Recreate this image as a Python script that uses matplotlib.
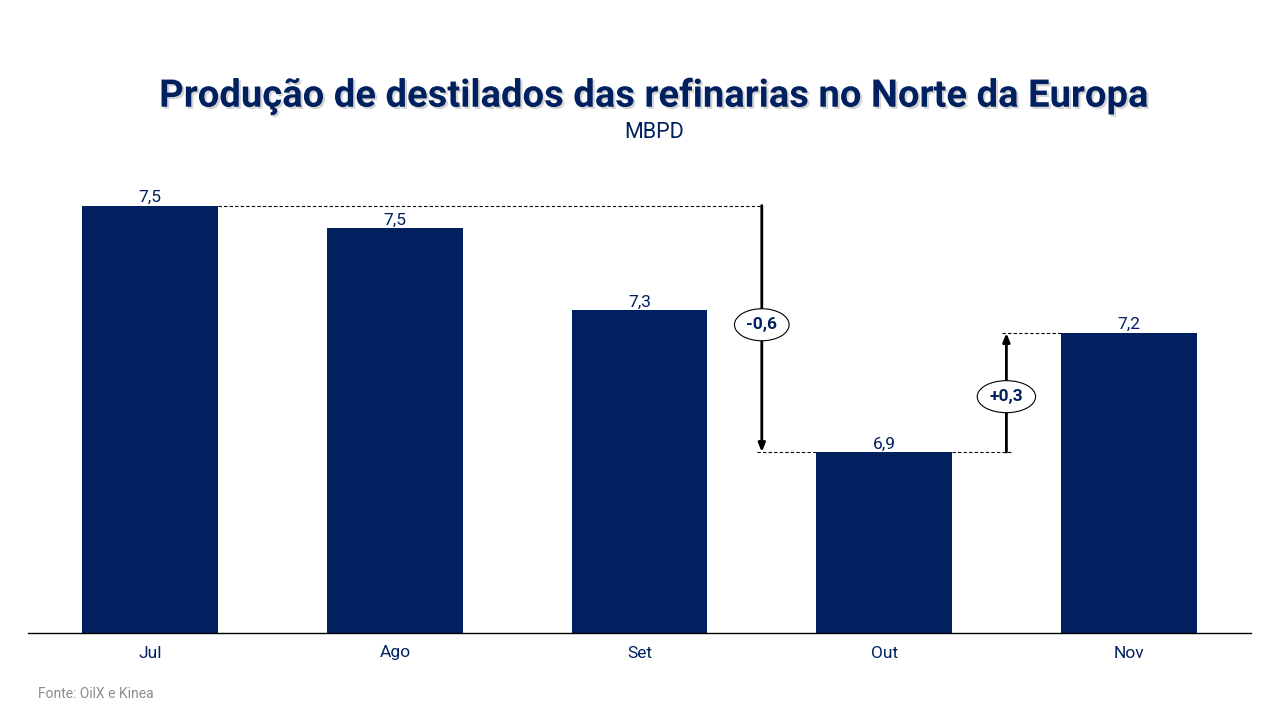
import matplotlib
matplotlib.use("Agg")
import matplotlib.pyplot as plt
import matplotlib.patheffects as pe

months = ["Jul", "Ago", "Set", "Out", "Nov"]
values = [7.54, 7.485, 7.285, 6.94, 7.23]
labels = ["7,5", "7,5", "7,3", "6,9", "7,2"]
delta_labels = ["-0,6", "+0,3"]

NAVY = "#002060"
plt.rcParams["font.family"] = ["Roboto", "DejaVu Sans"]

fig = plt.figure(figsize=(12.8, 7.2), dpi=100)
ax = fig.add_axes([28/1280, 1 - 633/720, 1223/1280, (633-170)/720])

x = list(range(len(months)))
w = 0.555
ax.bar(x, values, width=w, color=NAVY, zorder=2)
ax.set_xlim(-0.5, 4.5)
ymin = 6.5
ax.set_ylim(ymin, ymin + (633-170)/411)

for xi, v, lab in zip(x, values, labels):
    ax.annotate(lab, (xi, v), xytext=(0, 0.5), textcoords="offset points",
                ha="center", va="bottom", fontsize=12.5, color=NAVY)

ax.set_xticks(x)
ax.set_xticklabels(months, fontsize=12.5, color=NAVY)
ax.tick_params(axis="x", length=0, pad=9)
ax.set_yticks([])
for s in ["top", "right", "left"]:
    ax.spines[s].set_visible(False)
ax.spines["bottom"].set_color("black")
ax.spines["bottom"].set_linewidth(1.0)

# annotation 1: Jul -> Out
xa = 2.5
ax.plot([0 + w/2, xa], [values[0], values[0]], ls=(0, (3, 2)), color="black", lw=0.8)
ax.plot([xa - 0.02, 3 - w/2], [values[3], values[3]], ls=(0, (3, 2)), color="black", lw=0.8)
ax.annotate("", xy=(xa, values[3]), xytext=(xa, values[0]),
            arrowprops=dict(arrowstyle="-|>,head_length=0.5,head_width=0.2", color="black", lw=2, shrinkA=0, shrinkB=0))
ax.text(xa, (values[0] + values[3]) / 2 + 0.01, delta_labels[0], ha="center", va="center",
        fontsize=12.5, fontweight="bold", color=NAVY,
        bbox=dict(boxstyle="ellipse,pad=0.22", fc="white", ec="black", lw=0.8))

# annotation 2: Out -> Nov
xb = 3.5
ax.plot([3 + w/2, xb + 0.02], [values[3], values[3]], ls=(0, (3, 2)), color="black", lw=0.8)
ax.plot([xb - 0.02, 4 - w/2], [values[4], values[4]], ls=(0, (3, 2)), color="black", lw=0.8)
ax.annotate("", xy=(xb, values[4]), xytext=(xb, values[3]),
            arrowprops=dict(arrowstyle="-|>,head_length=0.5,head_width=0.2", color="black", lw=2, shrinkA=0, shrinkB=0))
ax.text(xb, (values[3] + values[4]) / 2 - 0.01, delta_labels[1], ha="center", va="center",
        fontsize=12.5, fontweight="bold", color=NAVY,
        bbox=dict(boxstyle="ellipse,pad=0.22", fc="white", ec="black", lw=0.8))

fig.text(654/1280, 1 - 96/720, "Produção de destilados das refinarias no Norte da Europa",
         ha="center", va="center", fontsize=27.5, fontweight="bold", color=NAVY,
         path_effects=[pe.withSimplePatchShadow(offset=(1.5, -1.5), shadow_rgbFace="#aaaaaa", alpha=0.5)])
fig.text(654/1280, 1 - 133/720, "MBPD", ha="center", va="center", fontsize=15.5, color=NAVY)
fig.text(38/1280, 1 - 694/720, "Fonte: OilX e Kinea", ha="left", va="center", fontsize=10, color="#8c8c8c")

fig.savefig("out.png", dpi=100, facecolor="white")
